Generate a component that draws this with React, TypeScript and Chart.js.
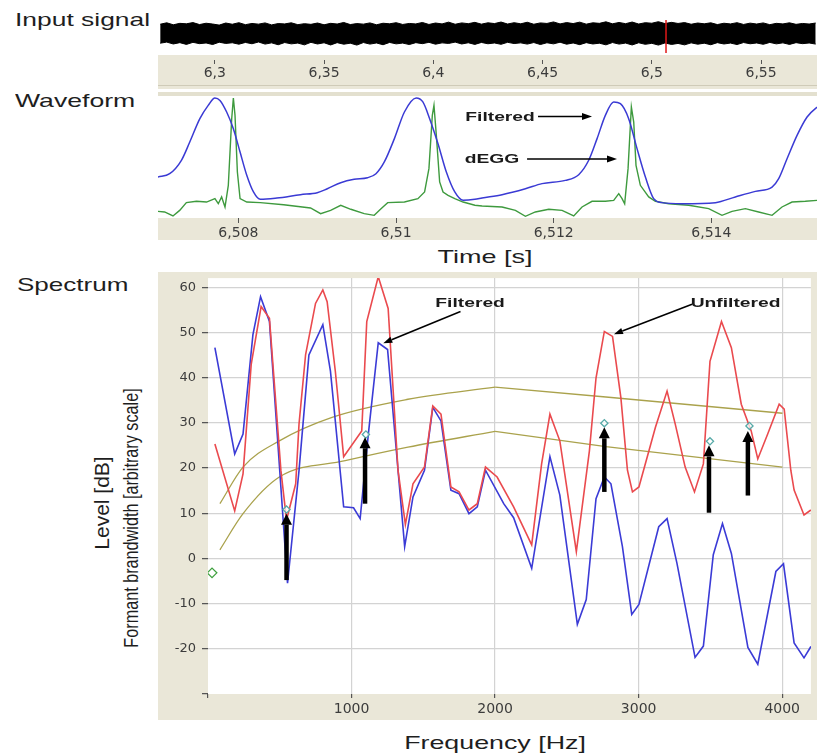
import React, { useEffect, useRef } from "react";
import { Chart, registerables } from "chart.js";

Chart.register(...registerables);

const BEIGE = "#EAE7D8";
const GRID = "#d3d3d3";
const TICK_COLOR = "#3c3c3c";
const TICK_FAMILY = "'DejaVu Sans', Verdana, sans-serif";
const TEXT_FAMILY = "'Liberation Sans', Arial, Helvetica, sans-serif";

// ---------- Input signal: amplitude envelope of the recording ----------
const signalStart = 6.275; // s, first envelope sample
const signalStep = 0.003; // s between envelope samples
const signalUpper = [
  0.84, 0.97, 0.79, 0.92, 0.88, 0.99, 0.81, 0.93, 0.86, 0.76,
  0.95, 0.84, 0.98, 0.8, 0.91, 0.85, 0.96, 0.78, 0.9, 0.87,
  0.97, 0.8, 0.89, 0.83, 0.95, 0.79, 0.92, 0.86, 1.0, 0.81,
  0.9, 0.85, 0.96, 0.79, 0.93, 0.88, 0.98, 0.82, 0.91, 0.87,
  1.0, 0.82, 0.95, 0.87, 1.03, 0.84, 0.96, 0.89, 1.01, 0.85,
  0.97, 0.9, 1.04, 0.86, 0.98, 0.88, 1.02, 0.84, 0.96, 0.91,
  1.05, 0.87, 0.99, 0.9, 1.03, 0.85, 0.97, 0.92, 1.06, 0.88,
  1.0, 0.89, 1.04, 0.86, 0.98, 0.93, 1.07, 0.9, 1.01, 0.91,
  0.99, 0.84, 0.95, 0.88, 0.97, 0.81, 0.93, 0.87, 0.98, 0.82,
  0.94, 0.86, 0.96, 0.8, 0.92, 0.87, 0.97, 0.83, 0.91, 0.86, 0.95,
];
const signalLower = [
  -0.88, -0.78, -0.95, -0.83, -0.99, -0.8, -0.92, -0.86, -1.0, -0.79,
  -0.9, -0.84, -0.97, -0.81, -0.93, -0.77, -0.96, -0.85, -1.02, -0.82,
  -0.94, -0.87, -1.03, -0.8, -0.95, -0.84, -1.04, -0.83, -0.97, -0.88,
  -1.05, -0.82, -0.96, -0.86, -1.02, -0.81, -0.94, -0.87, -1.0, -0.83,
  -0.92, -0.8, -0.97, -0.85, -0.9, -0.78, -0.95, -0.84, -0.99, -0.81,
  -0.93, -0.86, -0.98, -0.8, -0.91, -0.85, -0.96, -0.82, -1.0, -0.84,
  -0.94, -0.79, -0.97, -0.86, -1.01, -0.83, -0.95, -0.88, -1.03, -0.82,
  -0.96, -0.87, -1.04, -0.84, -0.98, -0.89, -1.05, -0.86, -0.99, -0.9,
  -1.03, -0.85, -0.97, -0.88, -1.02, -0.83, -0.95, -0.87, -1.0, -0.82,
  -0.93, -0.86, -0.98, -0.81, -0.94, -0.85, -0.99, -0.83, -0.92, -0.86, -0.96,
];
const signalRange = [6.274, 6.5756];
const signalTicks = [6.3, 6.35, 6.4, 6.45, 6.5, 6.55];
const cursorTime = 6.5065;

// ---------- Waveform window (times in ms after 6.5 s, arbitrary level 0-100) ----------
const waveOrigin = 6.5;
const waveRange = [6.50698, 6.51534];
const waveTicks = [6.508, 6.51, 6.512, 6.514];
const filteredMs = [
  6.979, 7.128, 7.277, 7.383, 7.511, 7.617, 7.702, 7.766, 7.851, 7.936,
  8.021, 8.106, 8.191, 8.277, 8.489, 8.787, 9.0, 9.128, 9.298, 9.468,
  9.638, 9.745, 9.851, 9.979, 10.106, 10.255, 10.34, 10.426, 10.532, 10.638,
  10.745, 10.851, 11.0, 11.091, 11.345, 11.641, 11.852, 12.148, 12.317, 12.444,
  12.55, 12.655, 12.761, 12.846, 12.951, 13.057, 13.163, 13.268, 13.374, 13.628,
  14.051, 14.304, 14.558, 14.77, 14.854, 14.96, 15.087, 15.214, 15.319, 15.4,
];
const filteredWave = [
  33.9, 36.6, 47.7, 62.8, 82.1, 93.1, 99.2, 97.2, 87.6, 73.8,
  54.5, 35.3, 21.5, 15.4, 16.5, 19.3, 20.9, 24.2, 29.2, 32,
  33.3, 36.6, 46.3, 65.6, 87.6, 99.2, 95.9, 82.1, 61.4, 38,
  21.5, 14.6, 15.4, 16.5, 19.3, 24.2, 28.4, 31.1, 35.8, 47.7,
  65.6, 84.8, 95.9, 94.5, 82.1, 57.3, 33.9, 16, 12.7, 11.8,
  12.7, 17.4, 22, 25.6, 32.5, 49, 68.3, 83.5, 90.4, 93.5,
];
const deggMs = [
  6.979, 7.064, 7.17, 7.255, 7.34, 7.468, 7.596, 7.702, 7.745, 7.787,
  7.83, 7.872, 7.915, 7.936, 7.957, 7.987, 8.021, 8.106, 8.277, 8.574,
  8.915, 9.043, 9.17, 9.298, 9.426, 9.596, 9.723, 9.809, 9.894, 10.106,
  10.277, 10.362, 10.417, 10.46, 10.481, 10.511, 10.553, 10.596, 10.66, 10.745,
  10.851, 11.0, 11.091, 11.345, 11.514, 11.641, 11.767, 11.937, 12.106, 12.254,
  12.359, 12.486, 12.655, 12.761, 12.825, 12.867, 12.9, 12.943, 12.985, 13.015,
  13.044, 13.099, 13.205, 13.29, 13.459, 13.713, 13.966, 14.135, 14.262, 14.431,
  14.6, 14.77, 14.896, 15.023, 15.192, 15.34,
];
const deggWave = [
  5.5, 5, 1.7, 6.3, 12.7, 13.8, 13.2, 16, 11.8, 17.4,
  9.1, 27, 82, 99.2, 84.8, 38, 16, 13.2, 12.7, 11,
  8.3, 3.6, 6.3, 10.5, 7.2, 3.6, 2.2, 7.7, 12.7, 13.2,
  16, 21.5, 40.8, 84.8, 93.1, 68.3, 29.8, 21.5, 18.7, 16,
  13.2, 10.5, 9.9, 9.1, 6.3, 1.4, 5, 7.2, 6.3, 1.7,
  9.1, 13.8, 13.8, 14.6, 20.1, 16, 11.8, 40.8, 91.7, 79.3,
  43.5, 27, 17.4, 13.8, 11.8, 10.5, 7.7, 2.2, 5.5, 7.7,
  5, 2.2, 9.1, 13.2, 13.8, 14.6,
];
// annotation anchors: label centre / baseline, pointer start / end (ms, level)
const waveNoteText = ["Filtered", "dEGG"];
const waveNoteMs = [11.319, 11.217];
const waveNoteLevel = [80.2, 45.5];
const wavePointerFromMs = [11.801, 11.662];
const wavePointerToMs = [12.486, 12.803];
const wavePointerLevel = [83.9, 48.8];

// ---------- Spectrum ----------
const hzTicks = [0, 1000, 2000, 3000, 4000];
const dbTicks = [-30, -20, -10, 0, 10, 20, 30, 40, 50, 60];
const filteredHz = [
  48, 186, 244, 313, 366, 428, 554, 634, 703, 800,
  853, 945, 1014, 1060, 1117, 1186, 1251, 1370, 1428, 1508,
  1566, 1623, 1692, 1749, 1818, 1876, 1933, 2060, 2129, 2255,
  2382, 2451, 2573, 2635, 2703, 2761, 2807, 2887, 2952, 3002,
  3140, 3198, 3267, 3393, 3451, 3520, 3584, 3646, 3761, 3830,
  3956, 4009, 4083, 4152, 4200,
];
const filteredDb = [
  46.6, 23.1, 27.5, 49.5, 57.9, 52.4, -5.5, 19.4, 45, 51.7,
  41.4, 11.4, 11.2, 8.8, 27.5, 47.7, 46.2, 2.6, 13.6, 19.5,
  33.4, 30.4, 15.1, 14.3, 9.9, 11.4, 19.5, 12.1, 9, -2.2,
  22.5, 14, -14.6, -9.1, 13.2, 18, 16.5, 2.6, -12.4, -10.2,
  7, 8.8, -1.1, -21.9, -19.4, 0.8, 7.7, 1.1, -19.7, -23.4,
  -2.9, -1.2, -18.7, -22, -19.5,
];
const unfilteredHz = [
  48, 186, 244, 301, 370, 428, 508, 547, 611, 634,
  680, 749, 800, 830, 887, 945, 1071, 1106, 1186, 1255,
  1324, 1375, 1428, 1508, 1566, 1623, 1692, 1749, 1818, 1876,
  1933, 2014, 2129, 2255, 2324, 2382, 2451, 2566, 2657, 2703,
  2761, 2818, 2876, 2922, 2957, 3002, 3117, 3198, 3255, 3324,
  3389, 3451, 3497, 3577, 3646, 3715, 3784, 3830, 3899, 3979,
  4014, 4060, 4083, 4152, 4200,
];
const unfilteredDb = [
  25.3, 10.5, 18.7, 42.9, 55.7, 53.1, 19.4, 8.5, 16.5, 29.7,
  45.1, 56.4, 59.4, 56.8, 41.4, 22.5, 28.2, 52.4, 62.3, 55.3,
  19.4, 7.5, 16.5, 20.2, 33.7, 31.9, 15.8, 14.7, 10.7, 12.1,
  20.2, 18, 11.4, 3, 20.9, 31.9, 26, 1.5, 23.8, 39.9,
  50.2, 49.1, 35.6, 19.5, 14.7, 15.8, 29, 37, 29.7, 20.2,
  14.7, 20.9, 43.6, 52.4, 46.6, 34.1, 28.2, 22, 27.5, 34.1,
  33, 19.5, 15.1, 9.6, 10.7,
];
// formant bandwidth curves: rising part up to 2 kHz, then straight fall
const bandUpperRiseHz = [83, 244, 497, 864, 1393, 2000];
const bandUpperRiseVal = [12.1, 20.2, 26, 31.2, 35.2, 37.9];
const bandUpperFallHz = [2000, 2772, 4002];
const bandUpperFallVal = [37.9, 35.7, 32.1];
const bandLowerRiseHz = [83, 244, 497, 956, 1393, 2000];
const bandLowerRiseVal = [1.9, 9.9, 18, 21.6, 24.6, 28.1];
const bandLowerFallHz = [2000, 2772, 4002];
const bandLowerFallVal = [28.1, 24.7, 20.2];
const formantHz = [547, 1100, 2761, 3497, 3772];
const formantDb = [10.8, 27.4, 29.9, 25.9, 29.3];
const refHz = [28];
const refDb = [-3.2];
const arrowHz = [547, 1094, 2761, 3490, 3761];
const arrowFromDb = [-4.8, 12.1, 14.7, 10.1, 13.9];
const arrowToDb = [9.9, 26.8, 29, 25, 28.2];
const specNoteText = ["Filtered", "Unfiltered"];
const specNoteHz = [1826, 3675];
const specNoteDb = [55.7, 55.7];
const specPointerFrom = [
  [1759, 54.6],
  [3372, 56.2],
];
const specPointerTo = [
  [1221, 47.6],
  [2828, 49.6],
];

const commaLabel = (v: number, digits: number) =>
  Number(v).toFixed(digits).replace(/0+$/, "").replace(/\.$/, "").replace(".", ",");

const pts = (xs: number[], ys: number[]) => xs.map((x, i) => ({ x, y: ys[i] }));

const fixedTicks = (values: number[]) => (scale: any) => {
  scale.ticks = values.map((value) => ({ value }));
};

function drawArrow(ctx: CanvasRenderingContext2D, x1: number, y1: number, x2: number, y2: number, lw: number, headLen: number, headW: number) {
  const ang = Math.atan2(y2 - y1, x2 - x1);
  const bx = x2 - headLen * Math.cos(ang);
  const by = y2 - headLen * Math.sin(ang);
  ctx.save();
  ctx.strokeStyle = "#000";
  ctx.fillStyle = "#000";
  ctx.lineWidth = lw;
  ctx.lineCap = "butt";
  ctx.beginPath();
  ctx.moveTo(x1, y1);
  ctx.lineTo(bx, by);
  ctx.stroke();
  ctx.beginPath();
  ctx.moveTo(x2, y2);
  ctx.lineTo(bx + (headW / 2) * Math.sin(ang), by - (headW / 2) * Math.cos(ang));
  ctx.lineTo(bx - (headW / 2) * Math.sin(ang), by + (headW / 2) * Math.cos(ang));
  ctx.closePath();
  ctx.fill();
  ctx.restore();
}

function wideText(ctx: CanvasRenderingContext2D, text: string, cx: number, baseline: number, sx: number) {
  ctx.save();
  ctx.font = `bold 13px ${TEXT_FAMILY}`;
  ctx.fillStyle = "#1a1a1a";
  ctx.textAlign = "center";
  ctx.textBaseline = "alphabetic";
  ctx.translate(cx, baseline);
  ctx.scale(sx, 1);
  ctx.fillText(text, 0, 0);
  ctx.restore();
}

const backdrop = (mode: "below" | "frame") => ({
  id: "backdrop",
  beforeDraw(chart: any) {
    const { ctx, chartArea: a, width, height } = chart;
    ctx.save();
    ctx.fillStyle = "#fff";
    ctx.fillRect(0, 0, width, height);
    ctx.fillStyle = BEIGE;
    if (mode === "below") {
      ctx.fillRect(0, a.bottom, width, height - a.bottom);
    } else {
      ctx.fillRect(0, 0, width, height);
      ctx.fillStyle = "#fff";
      ctx.fillRect(a.left, a.top, a.right - a.left, a.bottom - a.top);
    }
    ctx.restore();
  },
});

const tickFont = (size: number) => ({ family: TICK_FAMILY, size });

function Heading(props: { text: string; x: number; baseline: number; size?: number; sx?: number; center?: boolean }) {
  const { text, x, baseline, size = 19, sx = 1.38, center = false } = props;
  return (
    <div
      style={{
        position: "absolute",
        left: x,
        top: baseline - 0.8465 * size,
        fontFamily: TEXT_FAMILY,
        fontSize: size,
        lineHeight: `${size}px`,
        whiteSpace: "nowrap",
        color: "#1e1e1e",
        transformOrigin: center ? "center top" : "left top",
        transform: center ? `translateX(-50%) scaleX(${sx})` : `scaleX(${sx})`,
      }}
    >
      {text}
    </div>
  );
}

function Vertical(props: { text: string; cx: number; cy: number; size: number; sx?: number }) {
  const { text, cx, cy, size, sx = 1 } = props;
  return (
    <div
      style={{
        position: "absolute",
        left: cx,
        top: cy,
        fontFamily: TEXT_FAMILY,
        fontSize: size,
        lineHeight: `${size}px`,
        whiteSpace: "nowrap",
        color: "#1e1e1e",
        transform: `translate(-50%, -50%) rotate(-90deg) scaleX(${sx})`,
      }}
    >
      {text}
    </div>
  );
}

export default function App() {
  const sigRef = useRef<HTMLCanvasElement>(null);
  const waveRef = useRef<HTMLCanvasElement>(null);
  const specRef = useRef<HTMLCanvasElement>(null);

  useEffect(() => {
    const charts: Chart[] = [];
    const base = {
      animation: false as const,
      responsive: false,
      maintainAspectRatio: false,
      devicePixelRatio: 1,
      events: [] as any[],
    };

    // ---- input signal strip ----
    const cursor = {
      id: "cursor",
      afterDatasetsDraw(chart: any) {
        const { ctx, scales } = chart;
        const x = scales.x.getPixelForValue(cursorTime);
        ctx.save();
        ctx.strokeStyle = "#e01818";
        ctx.lineWidth = 1.5;
        ctx.beginPath();
        ctx.moveTo(x, scales.y.getPixelForValue(1.23));
        ctx.lineTo(x, scales.y.getPixelForValue(-1.77));
        ctx.stroke();
        ctx.restore();
      },
    };
    charts.push(
      new Chart(sigRef.current!, {
        type: "line",
        data: {
          datasets: [
            {
              data: signalUpper.map((v, i) => ({ x: signalStart + i * signalStep, y: v })),
              borderColor: "#000",
              backgroundColor: "#000",
              borderWidth: 1,
              pointRadius: 0,
              fill: "+1",
            },
            {
              data: signalLower.map((v, i) => ({ x: signalStart + i * signalStep, y: v })),
              borderColor: "#000",
              borderWidth: 1,
              pointRadius: 0,
              fill: false,
            },
          ],
        },
        options: {
          ...base,
          layout: { padding: 0 },
          plugins: { legend: { display: false }, tooltip: { enabled: false } },
          scales: {
            x: {
              type: "linear",
              min: signalRange[0],
              max: signalRange[1],
              afterBuildTicks: fixedTicks(signalTicks),
              afterFit: (s: any) => {
                s.height = 30;
                s.paddingLeft = 0;
                s.paddingRight = 0;
              },
              border: { display: false },
              grid: { drawOnChartArea: false, drawTicks: true, tickLength: 9, tickColor: "#555", tickBorderDash: [0, 5, 4, 100] },
              ticks: {
                autoSkip: false,
                maxRotation: 0,
                padding: 1,
                color: TICK_COLOR,
                font: tickFont(14),
                callback: (v: any) => commaLabel(v, 2),
              },
            },
            y: { display: false, min: -1.95, max: 1.95 },
          },
        } as any,
        plugins: [backdrop("below"), cursor],
      })
    );

    // ---- waveform window ----
    const waveNotes = {
      id: "waveNotes",
      afterDatasetsDraw(chart: any) {
        const { ctx, scales } = chart;
        const px = (ms: number) => scales.x.getPixelForValue(waveOrigin + ms / 1000);
        waveNoteText.forEach((t, i) => {
          wideText(ctx, t, px(waveNoteMs[i]), scales.y.getPixelForValue(waveNoteLevel[i]), 1.48);
          const y = scales.y.getPixelForValue(wavePointerLevel[i]);
          drawArrow(ctx, px(wavePointerFromMs[i]), y, px(wavePointerToMs[i]), y, 1.4, 10, 7);
        });
      },
    };
    charts.push(
      new Chart(waveRef.current!, {
        type: "line",
        data: {
          datasets: [
            {
              data: pts(deggMs.map((m) => waveOrigin + m / 1000), deggWave),
              borderColor: "#3e9a3e",
              borderWidth: 1.4,
              pointRadius: 0,
              tension: 0,
              order: 2,
            },
            {
              data: pts(filteredMs.map((m) => waveOrigin + m / 1000), filteredWave),
              borderColor: "#3a3ad4",
              borderWidth: 1.5,
              pointRadius: 0,
              cubicInterpolationMode: "monotone",
              order: 1,
            },
          ],
        },
        options: {
          ...base,
          layout: { padding: 0 },
          plugins: { legend: { display: false }, tooltip: { enabled: false } },
          scales: {
            x: {
              type: "linear",
              min: waveRange[0],
              max: waveRange[1],
              afterBuildTicks: fixedTicks(waveTicks),
              afterFit: (s: any) => {
                s.height = 22;
                s.paddingLeft = 0;
                s.paddingRight = 0;
              },
              border: { display: false },
              grid: { drawOnChartArea: false, drawTicks: true, tickLength: 5, tickColor: "#555" },
              ticks: {
                autoSkip: false,
                maxRotation: 0,
                padding: 2,
                color: TICK_COLOR,
                font: tickFont(14),
                callback: (v: any) => commaLabel(v, 3),
              },
            },
            y: { display: false, min: 0, max: 100 },
          },
        } as any,
        plugins: [backdrop("below"), waveNotes],
      })
    );

    // ---- spectrum ----
    const specNotes = {
      id: "specNotes",
      afterDatasetsDraw(chart: any) {
        const { ctx, scales } = chart;
        const X = (hz: number) => scales.x.getPixelForValue(hz);
        const Y = (db: number) => scales.y.getPixelForValue(db);
        arrowHz.forEach((hz, i) => {
          drawArrow(ctx, X(hz), Y(arrowFromDb[i]), X(hz), Y(arrowToDb[i]), 4.5, 11, 11);
        });
        specNoteText.forEach((t, i) => {
          wideText(ctx, t, X(specNoteHz[i]), Y(specNoteDb[i]), 1.48);
          const [fh, fd] = specPointerFrom[i];
          const [th, td] = specPointerTo[i];
          drawArrow(ctx, X(fh), Y(fd), X(th), Y(td), 1.5, 9, 6.5);
        });
      },
    };
    const olive = (xs: number[], ys: number[], smooth: boolean) => ({
      data: pts(xs, ys),
      borderColor: "#aaa24c",
      borderWidth: 1.3,
      pointRadius: 0,
      tension: 0,
      cubicInterpolationMode: smooth ? "monotone" : "default",
      order: 3,
    });
    charts.push(
      new Chart(specRef.current!, {
        type: "line",
        data: {
          datasets: [
            {
              data: pts(formantHz, formantDb),
              showLine: false,
              pointStyle: "rectRot",
              pointRadius: 3.6,
              pointBorderWidth: 1.3,
              pointBorderColor: "#58aaa8",
              pointBackgroundColor: "rgba(255,255,255,0.7)",
              order: 0,
            },
            {
              data: pts(refHz, refDb),
              showLine: false,
              pointStyle: "rectRot",
              pointRadius: 4.8,
              pointBorderWidth: 1.3,
              pointBorderColor: "#3ea03e",
              pointBackgroundColor: "rgba(255,255,255,0)",
              order: 0,
            },
            {
              data: pts(unfilteredHz, unfilteredDb),
              borderColor: "#ea4a4e",
              borderWidth: 1.6,
              pointRadius: 0,
              tension: 0,
              order: 1,
            },
            {
              data: pts(filteredHz, filteredDb),
              borderColor: "#3b3bd6",
              borderWidth: 1.6,
              pointRadius: 0,
              tension: 0,
              order: 2,
            },
            olive(bandUpperRiseHz, bandUpperRiseVal, true),
            olive(bandUpperFallHz, bandUpperFallVal, false),
            olive(bandLowerRiseHz, bandLowerRiseVal, true),
            olive(bandLowerFallHz, bandLowerFallVal, false),
          ],
        },
        options: {
          ...base,
          layout: { padding: { top: 3.4, left: 0, right: 0, bottom: 0 } },
          plugins: { legend: { display: false }, tooltip: { enabled: false } },
          scales: {
            x: {
              type: "linear",
              min: 0,
              max: 4200,
              afterBuildTicks: fixedTicks(hzTicks),
              afterFit: (s: any) => {
                s.height = 26;
                s.paddingLeft = 0;
                s.paddingRight = 0;
              },
              border: { display: false },
              grid: {
                color: (c: any) => (c.tick && c.tick.value === 0 ? "rgba(0,0,0,0)" : GRID),
                lineWidth: 1.2,
                drawTicks: true,
                tickLength: 4,
                tickColor: "#555",
              },
              ticks: {
                autoSkip: false,
                maxRotation: 0,
                padding: 3,
                color: TICK_COLOR,
                font: tickFont(14),
                callback: (v: any) => (Number(v) === 0 ? "" : String(v)),
              },
            },
            y: {
              type: "linear",
              min: -30,
              max: 62,
              afterBuildTicks: fixedTicks(dbTicks),
              afterFit: (s: any) => {
                s.width = 50;
                s.paddingTop = 0;
                s.paddingBottom = 0;
              },
              border: { display: false },
              grid: {
                color: (c: any) => (c.tick && c.tick.value === -30 ? "rgba(0,0,0,0)" : GRID),
                lineWidth: 1.2,
                drawTicks: true,
                tickLength: 10,
                tickColor: "#555",
                tickBorderDash: [0, 4, 6, 100],
              },
              ticks: {
                autoSkip: false,
                padding: 2,
                color: TICK_COLOR,
                font: tickFont(13),
                callback: (v: any) => (Number(v) === -30 ? "" : String(v)),
              },
            },
          },
        } as any,
        plugins: [backdrop("frame"), specNotes],
      })
    );

    return () => charts.forEach((c) => c.destroy());
  }, []);

  const canvasStyle = (left: number, top: number, w: number, h: number): React.CSSProperties => ({
    position: "absolute",
    left,
    top,
    width: w,
    height: h,
    display: "block",
  });

  return (
    <div
      style={{
        position: "absolute",
        left: 0,
        top: 0,
        width: 817,
        height: 755,
        background: "#fff",
        overflow: "hidden",
      }}
    >
      <Heading text="Input signal" x={15} baseline={26} sx={1.39} />
      <canvas ref={sigRef} width={659} height={73} style={canvasStyle(158, 12, 659, 73)} />

      {/* panel separator */}
      <div style={{ position: "absolute", left: 158, top: 85, width: 659, height: 1, background: "#cfcbb8" }} />
      <div style={{ position: "absolute", left: 158, top: 86, width: 659, height: 3, background: BEIGE }} />
      <div style={{ position: "absolute", left: 158, top: 92, width: 659, height: 4, background: "#e3e0cf" }} />

      <Heading text="Waveform" x={15} baseline={107} sx={1.4} />
      <canvas ref={waveRef} width={659} height={143} style={canvasStyle(158, 97, 659, 143)} />
      <Heading text="Time [s]" x={485} baseline={263} sx={1.42} center />

      <Heading text="Spectrum" x={17} baseline={291} sx={1.37} />
      <canvas ref={specRef} width={659} height={448} style={canvasStyle(158, 272, 659, 448)} />
      <Vertical text="Level [dB]" cx={101} cy={503} size={21} />
      <Vertical text="Formant brandwidth [arbitrary scale]" cx={131} cy={518} size={20} sx={0.81} />
      <Heading text="Frequency [Hz]" x={495} baseline={749} sx={1.41} center />
    </div>
  );
}
